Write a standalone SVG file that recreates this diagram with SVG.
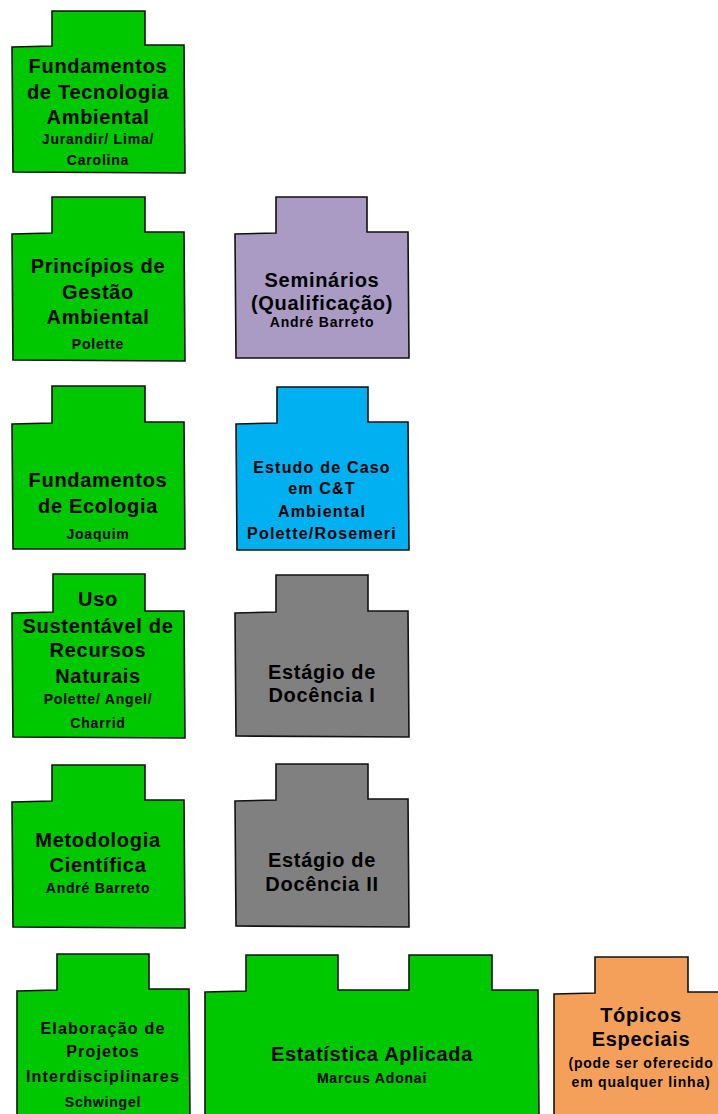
<svg xmlns="http://www.w3.org/2000/svg" width="718" height="1114" viewBox="0 0 718 1114">
<style>
.s{stroke:#111;stroke-width:1.6;stroke-linejoin:miter}
.g{fill:#00C800}
.p{fill:#A99BC4}
.b{fill:#00B0F0}
.k{fill:#808080}
.o{fill:#F5A05A}
text{font-family:"Liberation Sans",Arial,sans-serif;font-weight:bold;fill:#000;text-anchor:middle}
.t{font-size:20px;letter-spacing:0.7px}
.n{font-size:14px;letter-spacing:0.8px}
.m{font-size:16px;letter-spacing:1.2px}
</style>
<rect width="718" height="1114" fill="#fff"/>
<g id="connectors"></g>

<g id="fund-tecnologia">
<path class="s g" d="M12,47 L52,46 L52,11 L145,11 L145,45 L184,45 L185,173 L13,172 Z"/>
<text class="t" x="98" y="73">Fundamentos</text>
<text class="t" x="98" y="99">de Tecnologia</text>
<text class="t" x="98" y="124">Ambiental</text>
<text class="n" x="98" y="144">Jurandir/ Lima/</text>
<text class="n" x="98" y="165">Carolina</text>
</g>

<g id="principios">
<path class="s g" d="M12,234 L52,233 L52,197 L145,197 L145,232 L184,232 L185,361 L13,360 Z"/>
<text class="t" x="98" y="273">Princípios de</text>
<text class="t" x="98" y="299">Gestão</text>
<text class="t" x="98" y="324">Ambiental</text>
<text class="n" x="98" y="349">Polette</text>
</g>

<g id="seminarios">
<path class="s p" d="M235,234 L276,233 L276,197 L367,197 L367,232 L408,232 L409,358 L236,358 Z"/>
<text class="t" x="322" y="287">Seminários</text>
<text class="t" x="322" y="310">(Qualificação)</text>
<text class="n" x="322" y="327">André Barreto</text>
</g>

<g id="fund-ecologia">
<path class="s g" d="M12,424 L52,423 L52,386 L145,386 L145,422 L184,422 L185,549 L13,549 Z"/>
<text class="t" x="98" y="487">Fundamentos</text>
<text class="t" x="98" y="513">de Ecologia</text>
<text class="n" x="98" y="539">Joaquim</text>
</g>

<g id="estudo-caso">
<path class="s b" d="M236,424 L277,423 L277,387 L368,387 L368,422 L408,422 L409,550 L237,550 Z"/>
<text class="m" x="322" y="473">Estudo de Caso</text>
<text class="m" x="322" y="494">em C&amp;T</text>
<text class="m" x="322" y="517">Ambiental</text>
<text class="m" x="322" y="539">Polette/Rosemeri</text>
</g>

<g id="uso-sustentavel">
<path class="s g" d="M12,613 L53,612 L53,574 L145,574 L145,611 L184,611 L185,738 L13,737 Z"/>
<text class="t" x="98" y="606">Uso</text>
<text class="t" x="98" y="633">Sustentável de</text>
<text class="t" x="98" y="657">Recursos</text>
<text class="t" x="98" y="683">Naturais</text>
<text class="n" x="98" y="704">Polette/ Angel/</text>
<text class="n" x="98" y="728">Charrid</text>
</g>

<g id="estagio-1">
<path class="s k" d="M235,613 L276,612 L276,575 L368,575 L368,611 L408,611 L409,737 L236,736 Z"/>
<text class="t" x="322" y="679">Estágio de</text>
<text class="t" x="322" y="702">Docência I</text>
</g>

<g id="metodologia">
<path class="s g" d="M12,802 L52,801 L52,765 L145,765 L145,800 L184,800 L185,928 L13,927 Z"/>
<text class="t" x="98" y="847">Metodologia</text>
<text class="t" x="98" y="872">Científica</text>
<text class="n" x="98" y="893">André Barreto</text>
</g>

<g id="estagio-2">
<path class="s k" d="M235,801 L276,800 L276,764 L368,764 L368,799 L408,799 L409,927 L236,926 Z"/>
<text class="t" x="322" y="867">Estágio de</text>
<text class="t" x="322" y="891">Docência II</text>
</g>

<g id="elaboracao">
<path class="s g" d="M17,991 L57,990 L57,954 L149,954 L149,989 L189,989 L190,1120 L17,1120 Z"/>
<text class="m" x="103" y="1034">Elaboração de</text>
<text class="m" x="103" y="1057">Projetos</text>
<text class="m" x="103" y="1082">Interdisciplinares</text>
<text class="n" x="103" y="1107">Schwingel</text>
</g>

<g id="estatistica">
<path class="s g" d="M205,992 L246,991 L246,955 L338,955 L338,990 L409,990 L409,955 L492,955 L492,990 L538,990 L539,1120 L205,1120 Z"/>
<text class="t" x="372" y="1061">Estatística Aplicada</text>
<text class="n" x="372" y="1083">Marcus Adonai</text>
</g>

<g id="topicos">
<path class="s o" d="M554,994 L595,993 L595,957 L688,957 L688,992 L725,992 L725,1120 L554,1120 Z"/>
<text class="t" x="641" y="1022">Tópicos</text>
<text class="t" x="641" y="1046">Especiais</text>
<text class="n" x="641" y="1068">(pode ser oferecido</text>
<text class="n" x="641" y="1087">em qualquer linha)</text>
</g>
</svg>
